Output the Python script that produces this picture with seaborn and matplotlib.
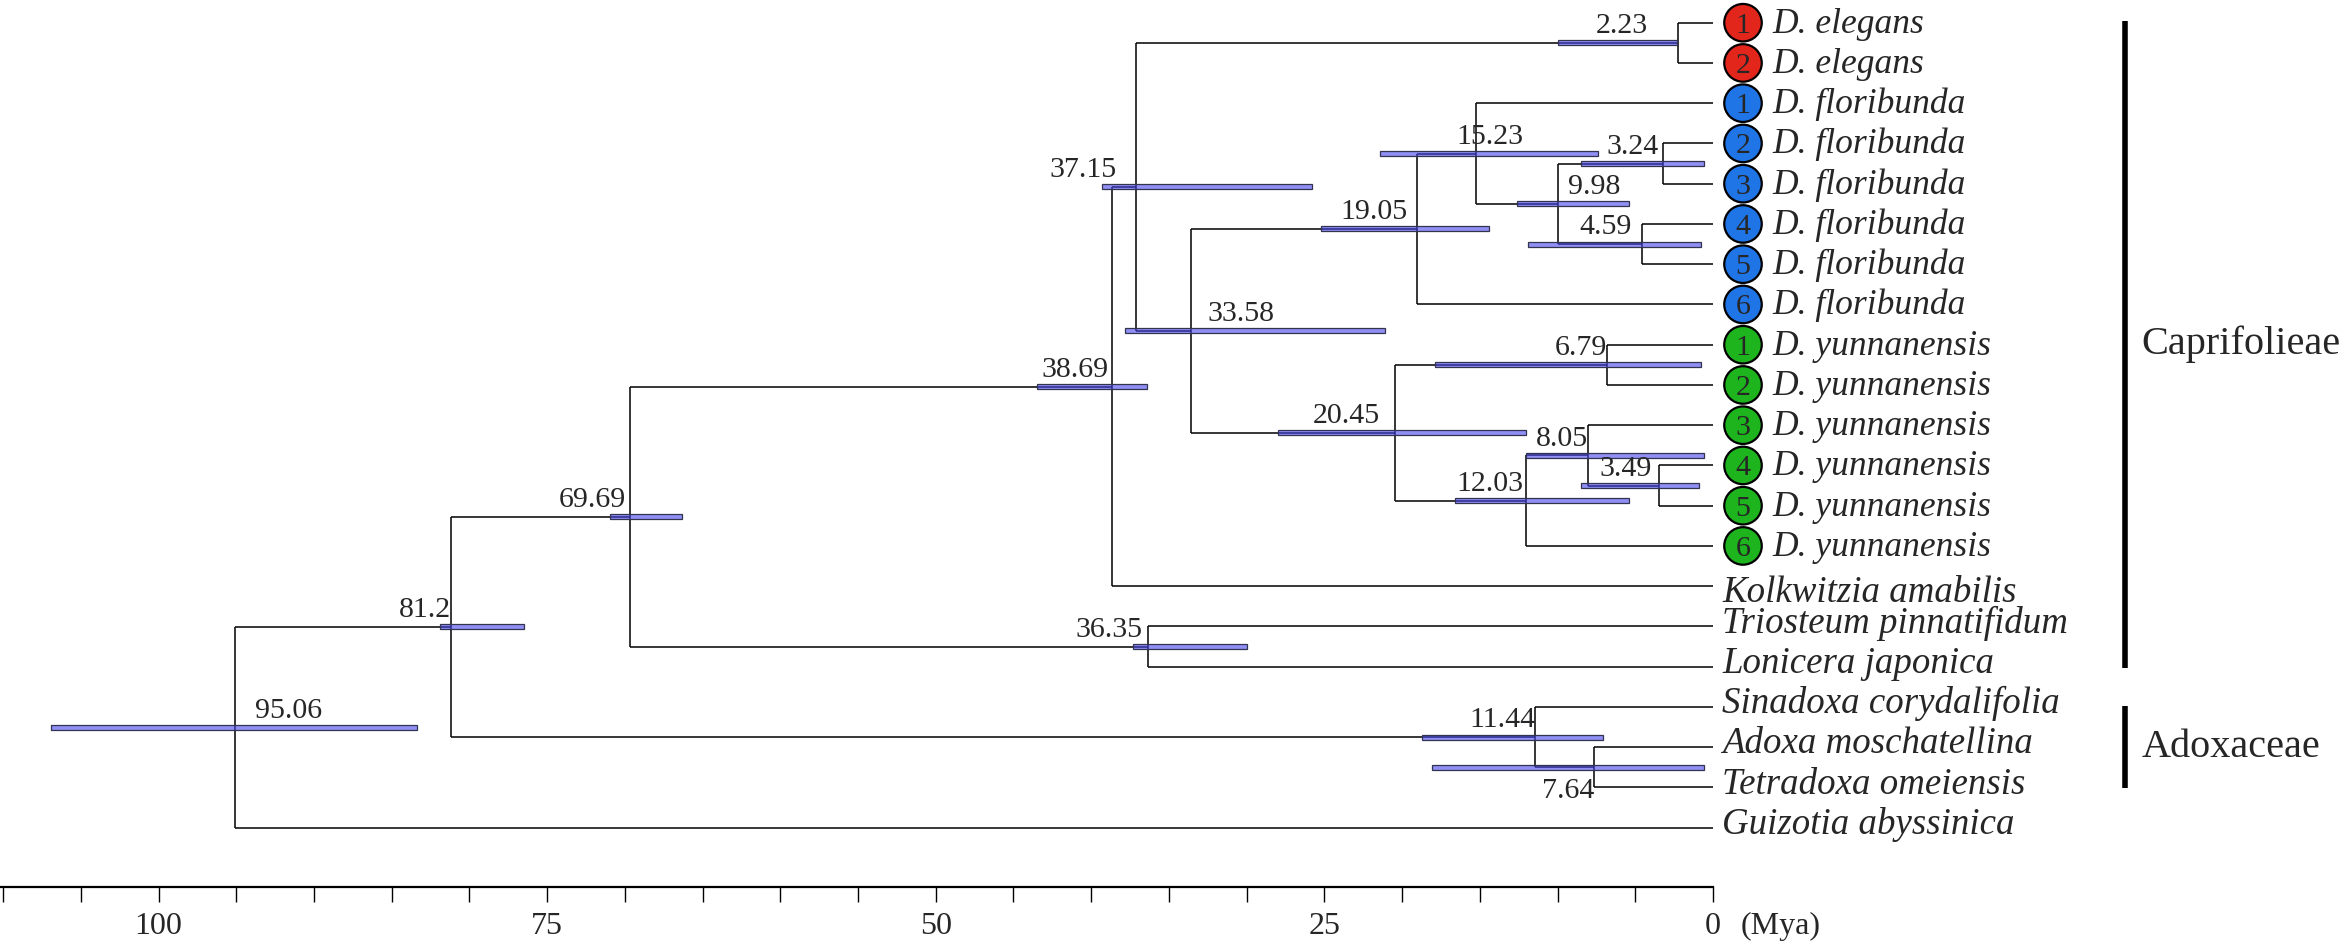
import matplotlib
matplotlib.use("Agg")
import matplotlib.pyplot as plt
import seaborn as sns
import pandas as pd
import numpy as np

# ---------------- data ----------------
tip_names = ["D. elegans", "D. elegans",
             "D. floribunda", "D. floribunda", "D. floribunda",
             "D. floribunda", "D. floribunda", "D. floribunda",
             "D. yunnanensis", "D. yunnanensis", "D. yunnanensis",
             "D. yunnanensis", "D. yunnanensis", "D. yunnanensis",
             "Kolkwitzia amabilis", "Triosteum pinnatifidum", "Lonicera japonica",
             "Sinadoxa corydalifolia", "Adoxa moschatellina", "Tetradoxa omeiensis",
             "Guizotia abyssinica"]
tip_badges = [1, 2, 1, 2, 3, 4, 5, 6, 1, 2, 3, 4, 5, 6, 0, 0, 0, 0, 0, 0, 0]
tip_species = (["elegans"] * 2 + ["floribunda"] * 6 + ["yunnanensis"] * 6 + [""] * 7)

# internal nodes (children listed before parents)
node_ages = [2.23, 3.24, 4.59, 9.98, 15.23, 19.05, 6.79, 3.49, 8.05, 12.03,
             20.45, 33.58, 37.15, 38.69, 36.35, 69.69, 7.64, 11.44, 81.2, 95.06]
node_children = [("t0", "t1"), ("t3", "t4"), ("t5", "t6"), ("n1", "n2"),
                 ("t2", "n3"), ("n4", "t7"), ("t8", "t9"), ("t11", "t12"),
                 ("t10", "n7"), ("n8", "t13"), ("n6", "n9"), ("n5", "n10"),
                 ("n0", "n11"), ("n12", "t14"), ("t15", "t16"), ("n13", "n14"),
                 ("t18", "t19"), ("t17", "n16"), ("n15", "n17"), ("n18", "t20")]
hpd_young = [2.3, 0.6, 0.8, 5.4, 7.4, 14.4, 0.8, 0.9, 0.55, 5.4,
             12.0, 21.1, 25.8, 36.4, 30.0, 66.3, 0.55, 7.1, 76.5, 83.4]
hpd_old = [10.0, 8.5, 11.9, 12.6, 21.4, 25.2, 17.9, 8.5, 12.0, 16.6,
           28.0, 37.8, 39.3, 43.5, 37.3, 70.95, 18.1, 18.7, 81.9, 106.9]

clade_names = ["Caprifolieae", "Adoxaceae"]
clade_first_tip = [0, 17]
clade_last_tip = [16, 19]

time_ticks = [100, 75, 50, 25, 0]
time_minor = list(range(0, 111, 5))

species_colors = {"elegans": "#e2261c", "floribunda": "#1f74e6", "yunnanensis": "#1db41d"}

# ---------------- layout ----------------
W, H = 2347, 952
sns.set_theme(style="white")
plt.rcParams["font.family"] = ["Liberation Serif", "DejaVu Serif"]

fig = plt.figure(figsize=(W / 100, H / 100), dpi=100)
ax_left_px, ax_right_px, ax_bottom_px = 0, 1713, 887
ax = fig.add_axes([ax_left_px / W, (H - ax_bottom_px) / H,
                   (ax_right_px - ax_left_px) / W, ax_bottom_px / H])
xmax = 110.2
ax.set_xlim(xmax, 0)
row_top = -0.564
row_bottom = (ax_bottom_px - 22.7) / 40.25
ax.set_ylim(row_bottom, row_top)
px_per_unit = (ax_right_px - ax_left_px) / xmax

# ---------------- tree geometry ----------------
n_tips = len(tip_names)
node_rows = []


def pos(ref):
    if ref[0] == "t":
        return 0.0, float(int(ref[1:]))
    i = int(ref[1:])
    return node_ages[i], node_rows[i]


for i, (a, b) in enumerate(node_children):
    _, ra = pos(a)
    _, rb = pos(b)
    node_rows.append((ra + rb) / 2.0)

# HPD bars (semi-transparent, drawn over the branches)
rows = np.array(node_rows)
ax.barh(rows, np.array(hpd_old) - np.array(hpd_young), left=hpd_young,
        height=0.125, facecolor=(0.27, 0.27, 0.93, 0.6),
        edgecolor=(0.2, 0.2, 0.32, 1.0), linewidth=0.9, zorder=4)

# branches
for i, (a, b) in enumerate(node_children):
    xa, ra = pos(a)
    xb, rb = pos(b)
    ax.vlines(node_ages[i], ra, rb, color="black", lw=1.1, zorder=3)
    ax.hlines([ra, rb], [node_ages[i]] * 2, [xa, xb], color="black", lw=1.1, zorder=3)

# node labels
label_place = {0: (-22, "right"), 1: (-3, "right"), 2: (-7, "right"), 3: (7, "left"),
               4: (-14, "left"), 5: (-7, "right"), 6: (0, "right"), 7: (-5, "right"),
               8: (0, "right"), 9: (-2, "right"), 10: (-11, "right"), 11: (12, "left"),
               12: (-14, "right"), 13: (-2, "right"), 14: (-4, "right"), 15: (-3, "right"),
               16: (0, "right"), 17: (0, "right"), 18: (0, "right"), 19: (14, "left")}
for i, a in enumerate(node_ages):
    dx, ha = label_place[i]
    if i == 16:
        ax.annotate(f"{a:g}", (a, node_rows[i]), xytext=(dx, -8), textcoords="offset points",
                    ha=ha, va="top", fontsize=21.5, zorder=5, annotation_clip=False)
    else:
        ax.annotate(f"{a:g}", (a, node_rows[i]), xytext=(dx, 7), textcoords="offset points",
                    ha=ha, va="baseline", fontsize=21.5, zorder=5, annotation_clip=False)

# tip badges
circle_x = -30 / px_per_unit
df = pd.DataFrame({"x": circle_x, "row": np.arange(n_tips), "species": tip_species,
                   "badge": tip_badges})
dfb = df[df["badge"] > 0]
sns.scatterplot(data=dfb, x="x", y="row", hue="species", palette=species_colors,
                s=730, edgecolor="black", linewidth=1.6, legend=False, ax=ax,
                zorder=4, clip_on=False)
ax.set_xlabel("")
ax.set_ylabel("")
for _, r in dfb.iterrows():
    ax.annotate(str(r["badge"]), (r["x"], r["row"]), xytext=(0, -7.1),
                textcoords="offset points", ha="center", va="baseline",
                fontsize=21.5, zorder=6, annotation_clip=False)

# tip labels
tip_nudge = {14: -11.7}
for i, name in enumerate(tip_names):
    if tip_badges[i] > 0:
        ax.annotate(name, (0, i), xytext=(43, -7.2), textcoords="offset points",
                    ha="left", va="baseline", fontsize=25.6, style="italic",
                    annotation_clip=False)
    else:
        ax.annotate(name, (0, i), xytext=(6.5, tip_nudge.get(i, -4.5)),
                    textcoords="offset points", ha="left", va="baseline",
                    fontsize=26.6, style="italic", annotation_clip=False)

# clade bars
clade_x = -412 / px_per_unit
for name, r0, r1 in zip(clade_names, clade_first_tip, clade_last_tip):
    ax.plot([clade_x, clade_x], [r0 - 0.03, r1 + 0.02], color="black", lw=4.0,
            solid_capstyle="butt", clip_on=False)
    ax.annotate(name, (clade_x, (r0 + r1) / 2), xytext=(12, 0), textcoords="offset points",
                ha="left", va="center", fontsize=29, annotation_clip=False)

# time axis
ax.set_yticks([])
ax.set_xticks(time_ticks)
ax.set_xticklabels([str(t) for t in time_ticks])
ax.set_xticks(time_minor, minor=True)
ax.tick_params(axis="x", which="both", direction="out", length=11, width=1.0,
               color="black", bottom=True)
ax.tick_params(axis="x", which="major", labelsize=23, pad=7)
for s in ["top", "right", "left"]:
    ax.spines[s].set_visible(False)
ax.spines["bottom"].set_linewidth(1.6)
ax.spines["bottom"].set_color("black")
ax.annotate("(Mya)", (0, 0), xycoords=ax.get_xaxis_transform(), xytext=(20, -18),
            textcoords="offset points", ha="left", va="top", fontsize=23,
            annotation_clip=False)
ax.patch.set_alpha(0)

fig.savefig("out.png", dpi=100)
